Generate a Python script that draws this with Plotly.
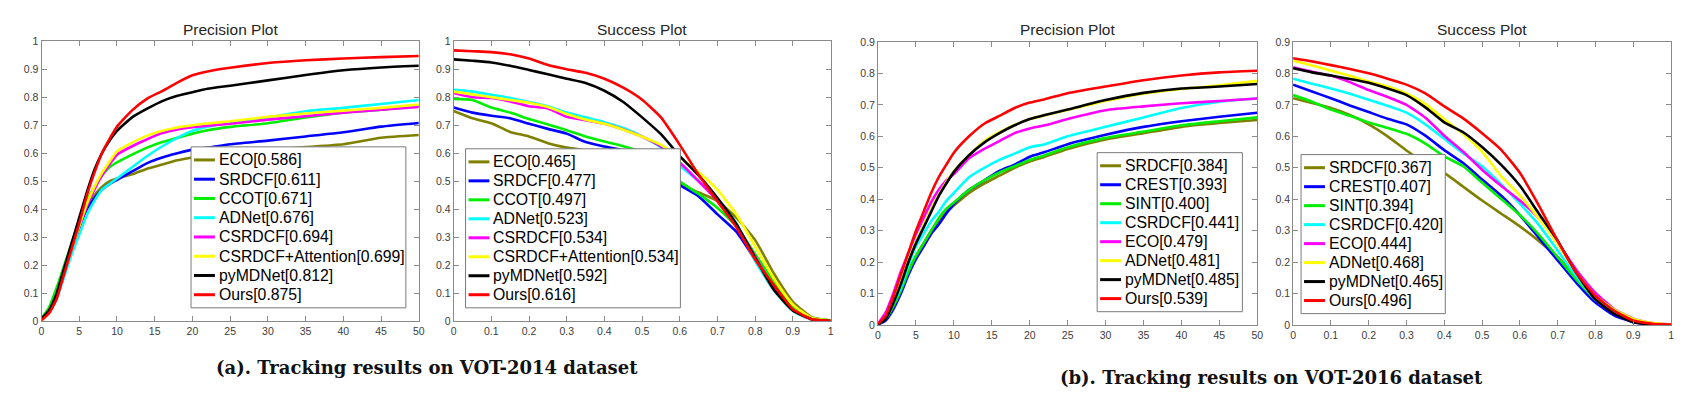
import plotly.graph_objects as go

W, H = 1682, 396

# ---------------- data ----------------
P_X = [0, 1, 2, 3, 4, 5, 6, 7, 8, 9, 10, 12, 14, 16, 18, 20, 22, 25, 30, 35, 40, 45, 50]
S_X = [0, 0.05, 0.1, 0.15, 0.2, 0.25, 0.3, 0.35, 0.4, 0.45, 0.5,
       0.55, 0.6, 0.65, 0.7, 0.75, 0.8, 0.85, 0.9, 0.95, 1.0]

# VOT-2014 precision
V14_P_NAMES = ["ECO[0.586]", "SRDCF[0.611]", "CCOT[0.671]", "ADNet[0.676]",
               "CSRDCF[0.694]", "CSRDCF+Attention[0.699]", "pyMDNet[0.812]", "Ours[0.875]"]
v14p_eco = [0.005, 0.04, 0.10, 0.19, 0.27, 0.35, 0.41, 0.45, 0.48, 0.50, 0.51, 0.525, 0.545, 0.56, 0.575, 0.585, 0.592, 0.60, 0.612, 0.622, 0.632, 0.655, 0.665]
v14p_srdcf = [0.005, 0.03, 0.09, 0.17, 0.25, 0.33, 0.40, 0.44, 0.47, 0.49, 0.505, 0.535, 0.565, 0.585, 0.60, 0.613, 0.62, 0.632, 0.645, 0.66, 0.675, 0.695, 0.708]
v14p_ccot = [0.01, 0.05, 0.12, 0.20, 0.28, 0.36, 0.43, 0.48, 0.52, 0.55, 0.567, 0.595, 0.62, 0.64, 0.655, 0.67, 0.682, 0.694, 0.707, 0.728, 0.745, 0.755, 0.768]
v14p_adnet = [0.005, 0.03, 0.08, 0.16, 0.24, 0.31, 0.38, 0.43, 0.47, 0.49, 0.51, 0.55, 0.59, 0.625, 0.655, 0.68, 0.695, 0.71, 0.728, 0.75, 0.762, 0.776, 0.79]
v14p_csrdcf = [0.005, 0.03, 0.09, 0.18, 0.26, 0.34, 0.41, 0.47, 0.52, 0.56, 0.595, 0.625, 0.65, 0.672, 0.685, 0.693, 0.698, 0.705, 0.72, 0.732, 0.745, 0.755, 0.765]
v14p_att = [0.005, 0.03, 0.09, 0.18, 0.26, 0.34, 0.42, 0.48, 0.53, 0.57, 0.607, 0.638, 0.663, 0.68, 0.692, 0.70, 0.706, 0.714, 0.73, 0.742, 0.752, 0.762, 0.774]
v14p_mdnet = [0.01, 0.04, 0.10, 0.19, 0.28, 0.37, 0.46, 0.54, 0.60, 0.645, 0.68, 0.728, 0.759, 0.786, 0.805, 0.818, 0.83, 0.841, 0.86, 0.879, 0.896, 0.906, 0.912]
v14p_ours = [0.005, 0.03, 0.08, 0.17, 0.26, 0.35, 0.45, 0.53, 0.60, 0.65, 0.695, 0.753, 0.795, 0.822, 0.852, 0.878, 0.892, 0.905, 0.922, 0.932, 0.938, 0.943, 0.947]

# VOT-2014 success
V14_S_NAMES = ["ECO[0.465]", "SRDCF[0.477]", "CCOT[0.497]", "ADNet[0.523]",
               "CSRDCF[0.534]", "CSRDCF+Attention[0.534]", "pyMDNet[0.592]", "Ours[0.616]"]
v14s_eco = [0.751, 0.725, 0.707, 0.676, 0.66, 0.636, 0.62, 0.61, 0.60, 0.585, 0.57, 0.53, 0.49, 0.46, 0.43, 0.37, 0.29, 0.17, 0.07, 0.015, 0.003]
v14s_srdcf = [0.763, 0.745, 0.734, 0.725, 0.705, 0.687, 0.67, 0.64, 0.624, 0.61, 0.57, 0.53, 0.486, 0.446, 0.382, 0.32, 0.22, 0.12, 0.04, 0.008, 0.001]
v14s_ccot = [0.794, 0.79, 0.763, 0.745, 0.722, 0.703, 0.682, 0.66, 0.642, 0.625, 0.605, 0.58, 0.50, 0.455, 0.405, 0.34, 0.24, 0.14, 0.055, 0.012, 0.003]
v14s_adnet = [0.826, 0.82, 0.809, 0.797, 0.783, 0.768, 0.745, 0.728, 0.711, 0.69, 0.66, 0.62, 0.555, 0.50, 0.434, 0.35, 0.215, 0.11, 0.037, 0.006, 0.001]
v14s_csrdcf = [0.815, 0.80, 0.797, 0.785, 0.768, 0.76, 0.73, 0.718, 0.705, 0.685, 0.659, 0.624, 0.567, 0.50, 0.43, 0.345, 0.23, 0.12, 0.04, 0.008, 0.001]
v14s_att = [0.82, 0.81, 0.80, 0.79, 0.78, 0.765, 0.74, 0.72, 0.705, 0.684, 0.659, 0.63, 0.584, 0.532, 0.469, 0.382, 0.267, 0.152, 0.06, 0.012, 0.003]
v14s_mdnet = [0.935, 0.93, 0.924, 0.912, 0.897, 0.882, 0.866, 0.851, 0.823, 0.783, 0.728, 0.668, 0.59, 0.521, 0.44, 0.348, 0.227, 0.112, 0.039, 0.008, 0.002]
v14s_ours = [0.967, 0.964, 0.961, 0.953, 0.938, 0.915, 0.90, 0.887, 0.866, 0.834, 0.791, 0.728, 0.63, 0.523, 0.428, 0.336, 0.221, 0.129, 0.043, 0.008, 0.002]

# VOT-2016 precision
V16_P_NAMES = ["SRDCF[0.384]", "CREST[0.393]", "SINT[0.400]", "CSRDCF[0.441]",
               "ECO[0.479]", "ADNet[0.481]", "pyMDNet[0.485]", "Ours[0.539]"]
v16p_srdcf = [0.002, 0.02, 0.06, 0.11, 0.17, 0.22, 0.26, 0.30, 0.33, 0.36, 0.38, 0.42, 0.45, 0.475, 0.50, 0.52, 0.535, 0.56, 0.59, 0.61, 0.63, 0.642, 0.652]
v16p_crest = [0.002, 0.015, 0.05, 0.10, 0.16, 0.21, 0.25, 0.29, 0.32, 0.355, 0.385, 0.43, 0.46, 0.49, 0.51, 0.535, 0.55, 0.575, 0.605, 0.63, 0.648, 0.662, 0.675]
v16p_sint = [0.003, 0.02, 0.06, 0.11, 0.17, 0.22, 0.26, 0.30, 0.34, 0.37, 0.39, 0.43, 0.46, 0.485, 0.505, 0.525, 0.54, 0.565, 0.595, 0.615, 0.635, 0.648, 0.66]
v16p_csrdcf = [0.003, 0.025, 0.07, 0.12, 0.19, 0.25, 0.29, 0.33, 0.36, 0.395, 0.42, 0.47, 0.50, 0.525, 0.545, 0.565, 0.575, 0.60, 0.63, 0.66, 0.69, 0.71, 0.72]
v16p_eco = [0.005, 0.04, 0.10, 0.17, 0.23, 0.29, 0.34, 0.39, 0.43, 0.46, 0.48, 0.53, 0.56, 0.585, 0.61, 0.625, 0.635, 0.655, 0.683, 0.695, 0.705, 0.712, 0.72]
v16p_adnet = [0.003, 0.025, 0.075, 0.14, 0.205, 0.265, 0.32, 0.37, 0.415, 0.455, 0.49, 0.54, 0.585, 0.613, 0.636, 0.655, 0.667, 0.684, 0.712, 0.735, 0.75, 0.762, 0.776]
v16p_mdnet = [0.003, 0.02, 0.07, 0.13, 0.20, 0.26, 0.31, 0.36, 0.41, 0.45, 0.487, 0.54, 0.58, 0.61, 0.635, 0.655, 0.668, 0.685, 0.715, 0.738, 0.752, 0.758, 0.766]
v16p_ours = [0.005, 0.03, 0.09, 0.16, 0.23, 0.30, 0.36, 0.42, 0.47, 0.51, 0.548, 0.60, 0.64, 0.665, 0.69, 0.707, 0.718, 0.737, 0.758, 0.778, 0.793, 0.803, 0.808]

# VOT-2016 success
V16_S_NAMES = ["SRDCF[0.367]", "CREST[0.407]", "SINT[0.394]", "CSRDCF[0.420]",
               "ECO[0.444]", "ADNet[0.468]", "pyMDNet[0.465]", "Ours[0.496]"]
v16s_srdcf = [0.721, 0.706, 0.69, 0.668, 0.638, 0.60, 0.555, 0.515, 0.484, 0.44, 0.396, 0.355, 0.314, 0.268, 0.216, 0.154, 0.088, 0.046, 0.015, 0.005, 0.002]
v16s_crest = [0.764, 0.742, 0.721, 0.698, 0.677, 0.656, 0.638, 0.602, 0.556, 0.515, 0.463, 0.412, 0.35, 0.278, 0.206, 0.134, 0.072, 0.031, 0.01, 0.003, 0.001]
v16s_sint = [0.731, 0.71, 0.685, 0.665, 0.644, 0.627, 0.608, 0.577, 0.536, 0.505, 0.453, 0.402, 0.35, 0.288, 0.216, 0.144, 0.082, 0.04, 0.015, 0.005, 0.002]
v16s_csrdcf = [0.783, 0.767, 0.752, 0.735, 0.716, 0.697, 0.675, 0.638, 0.592, 0.546, 0.505, 0.448, 0.386, 0.319, 0.237, 0.154, 0.082, 0.04, 0.015, 0.005, 0.002]
v16s_eco = [0.819, 0.805, 0.793, 0.772, 0.747, 0.725, 0.70, 0.659, 0.602, 0.551, 0.494, 0.443, 0.396, 0.34, 0.263, 0.175, 0.103, 0.051, 0.021, 0.007, 0.002]
v16s_adnet = [0.84, 0.825, 0.808, 0.792, 0.774, 0.758, 0.736, 0.702, 0.654, 0.607, 0.551, 0.474, 0.412, 0.34, 0.257, 0.165, 0.093, 0.05, 0.02, 0.007, 0.002]
v16s_mdnet = [0.816, 0.803, 0.793, 0.782, 0.77, 0.752, 0.731, 0.692, 0.644, 0.613, 0.566, 0.51, 0.443, 0.355, 0.268, 0.165, 0.082, 0.036, 0.01, 0.003, 0.001]
v16s_ours = [0.848, 0.838, 0.826, 0.814, 0.80, 0.783, 0.764, 0.736, 0.695, 0.657, 0.61, 0.558, 0.484, 0.381, 0.268, 0.165, 0.093, 0.046, 0.015, 0.005, 0.002]

P_TICKS = [0, 5, 10, 15, 20, 25, 30, 35, 40, 45, 50]
S_TICKS = [0, 0.1, 0.2, 0.3, 0.4, 0.5, 0.6, 0.7, 0.8, 0.9, 1]
Y_TICKS_1 = [0, 0.1, 0.2, 0.3, 0.4, 0.5, 0.6, 0.7, 0.8, 0.9, 1]
Y_TICKS_09 = [0, 0.1, 0.2, 0.3, 0.4, 0.5, 0.6, 0.7, 0.8, 0.9]

TITLES = ["Precision Plot", "Success Plot", "Precision Plot", "Success Plot"]
CAPTIONS = ["(a). Tracking results on VOT-2014 dataset",
            "(b). Tracking results on VOT-2016 dataset"]

COLORS = ["#808000", "#0000ff", "#00ee00", "#00ffff", "#ff00ff", "#ffff00", "#000000", "#ff0000"]

# ---------------- layout geometry (pixels) ----------------
def px_x(v):
    return v / W

def px_y(v):
    return 1 - v / H

panels = [
    dict(names=V14_P_NAMES, x=P_X, ys=[v14p_eco, v14p_srdcf, v14p_ccot, v14p_adnet, v14p_csrdcf, v14p_att, v14p_mdnet, v14p_ours],
         xr=[0, 50], yr=[0, 1], xt=P_TICKS, yt=Y_TICKS_1, box=(30.7, 410, 28, 317), leg=(181, 397, 137, 303)),
    dict(names=V14_S_NAMES, x=S_X, ys=[v14s_eco, v14s_srdcf, v14s_ccot, v14s_adnet, v14s_csrdcf, v14s_att, v14s_mdnet, v14s_ours],
         xr=[0, 1], yr=[0, 1], xt=S_TICKS, yt=Y_TICKS_1, box=(445, 824, 28, 317), leg=(457, 673, 139, 303)),
    dict(names=V16_P_NAMES, x=P_X, ys=[v16p_srdcf, v16p_crest, v16p_sint, v16p_csrdcf, v16p_eco, v16p_adnet, v16p_mdnet, v16p_ours],
         xr=[0, 50], yr=[0, 0.9], xt=P_TICKS, yt=Y_TICKS_09, box=(871.7, 1253, 28.7, 321), leg=(1092, 1238, 143, 307)),
    dict(names=V16_S_NAMES, x=S_X, ys=[v16s_srdcf, v16s_crest, v16s_sint, v16s_csrdcf, v16s_eco, v16s_adnet, v16s_mdnet, v16s_ours],
         xr=[0, 1], yr=[0, 0.9], xt=S_TICKS, yt=Y_TICKS_09, box=(1289, 1669, 28.7, 321), leg=(1297, 1442, 145, 309)),
]

fig = go.Figure()
layout = dict(
    width=W, height=H, margin=dict(l=0, r=0, t=0, b=0),
    paper_bgcolor="white", plot_bgcolor="white",
    font=dict(family="Liberation Sans, Arial, sans-serif", color="#262626"),
    annotations=[], shapes=[], showlegend=False,
)

AX_COLOR = "#8a8a8a"
TICK_FONT = dict(family="Liberation Sans, Arial, sans-serif", size=10.5, color="#3c3c3c")
LEG_FONT = dict(family="Liberation Sans, Arial, sans-serif", size=15.8, color="#000000")

for i, p in enumerate(panels):
    n = "" if i == 0 else str(i + 1)
    xa, ya = "x" + n, "y" + n
    for name, y, c in zip(p["names"], p["ys"], COLORS):
        fig.add_trace(go.Scatter(
            x=p["x"], y=y, name=name, mode="lines",
            line=dict(color=c, width=2.6, shape="spline", smoothing=0.5),
            xaxis=xa, yaxis=ya, hoverinfo="skip", showlegend=False))
    x0, x1, y0, y1 = p["box"]
    common = dict(showline=True, linecolor=AX_COLOR, linewidth=1, mirror="ticks",
                  ticks="inside", ticklen=5, tickcolor=AX_COLOR, tickwidth=1,
                  showgrid=False, zeroline=False, tickfont=TICK_FONT, fixedrange=True)
    layout["xaxis" + n] = dict(domain=[px_x(x0), px_x(x1)], range=p["xr"], tickvals=p["xt"],
                               anchor=ya, **common)
    layout["yaxis" + n] = dict(domain=[px_y(y1), px_y(y0)], range=p["yr"], tickvals=p["yt"],
                               anchor=xa, **common)
    layout["annotations"].append(dict(
        text=TITLES[i], x=px_x((x0 + x1) / 2), y=px_y(16), xref="paper", yref="paper",
        xanchor="center", yanchor="middle", showarrow=False,
        font=dict(family="Liberation Sans, Arial, sans-serif", size=15.5, color="#262626")))

    # legend box (drawn above the curves, white background)
    lx0, lx1, ly0, ly1 = p["leg"]
    layout["shapes"].append(dict(
        type="rect", xref="paper", yref="paper", layer="above",
        x0=px_x(lx0), x1=px_x(lx1), y0=px_y(ly1), y1=px_y(ly0),
        fillcolor="white", line=dict(color="#7a7a7a", width=1)))
    step = (ly1 - ly0 - 27) / 7.0
    for k, (name, c) in enumerate(zip(p["names"], COLORS)):
        cy = ly0 + 13.5 + k * step
        layout["shapes"].append(dict(
            type="line", xref="paper", yref="paper", layer="above",
            x0=px_x(lx0 + 3), x1=px_x(lx0 + 24), y0=px_y(cy), y1=px_y(cy),
            line=dict(color=c, width=3)))
        layout["annotations"].append(dict(
            text=name, x=px_x(lx0 + 26), y=px_y(cy), xref="paper", yref="paper",
            xanchor="left", yanchor="middle", showarrow=False, font=LEG_FONT))

layout["annotations"].append(dict(
    text="<b>" + CAPTIONS[0] + "</b>", x=px_x(418), y=px_y(365), xref="paper", yref="paper",
    xanchor="center", yanchor="middle", showarrow=False,
    font=dict(family="DejaVu Serif, serif", size=18, color="#111111")))
layout["annotations"].append(dict(
    text="<b>" + CAPTIONS[1] + "</b>", x=px_x(1267), y=px_y(375), xref="paper", yref="paper",
    xanchor="center", yanchor="middle", showarrow=False,
    font=dict(family="DejaVu Serif, serif", size=18, color="#111111")))

fig.update_layout(**layout)
fig.write_html("out.html")
